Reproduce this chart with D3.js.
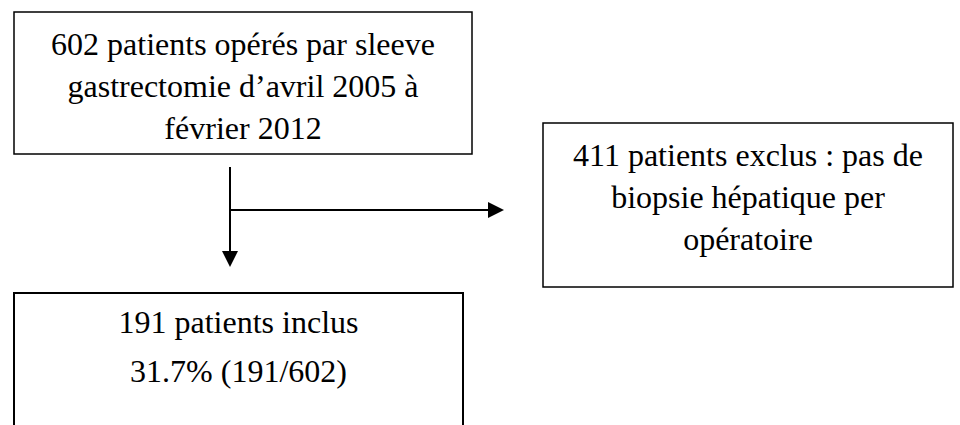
<!doctype html>
<html lang="fr">
    <head>
        <meta charset="utf-8">
        <title>Flowchart sleeve gastrectomie</title>
        <style>
            html, body { margin: 0; padding: 0; background: #fff; }
            svg { display: block; }
            .box { fill: #fff; stroke: #000; }
            .flow { stroke: #000; stroke-width: 2; fill: none; }
            .head { fill: #000; }
            text { font-family: "Liberation Serif", "Times New Roman", serif; font-size: 32px; fill: #000; }
        </style>
    </head>
    <body>
        <article id="chart"></article>

        <script src="https://cdnjs.cloudflare.com/ajax/libs/d3/7.8.5/d3.min.js"></script>
        <script>
            // counts
            var totalPatients = 602;
            var excludedPatients = 411;
            var includedPatients = 191;

            // text of each box, one entry per line
            var operatedLines = [
                totalPatients + " patients opérés par sleeve",
                "gastrectomie d\u2019avril 2005 à",
                "février 2012"
            ];
            var excludedLines = [
                excludedPatients + " patients exclus : pas de",
                "biopsie hépatique per",
                "opératoire"
            ];
            var includedLines = [
                includedPatients + " patients inclus",
                d3.format(".1%")(includedPatients / totalPatients) +
                    " (" + includedPatients + "/" + totalPatients + ")"
            ];

            var width = 960, height = 425;

            var svg = d3.select("#chart").append("svg")
                .attr("width", width)
                .attr("height", height);

            // layout
            var boxes = [
                {x: 14, y: 12, w: 458, h: 142, lines: operatedLines, first: 55, step: 42, sw: 1.5},
                {x: 543, y: 123, w: 410, h: 164, lines: excludedLines, first: 166, step: 42, sw: 1.5},
                {x: 14, y: 293, w: 449, h: 160, lines: includedLines, first: 333, step: 49, sw: 2}
            ];

            var g = svg.selectAll("g.node")
                .data(boxes)
                .enter()
                .append("g")
                .attr("class", "node");

            g.append("rect")
                .attr("class", "box")
                .attr("x", function(d) { return d.x; })
                .attr("y", function(d) { return d.y; })
                .attr("width", function(d) { return d.w; })
                .attr("height", function(d) { return d.h; })
                .style("stroke-width", function(d) { return d.sw; });

            g.each(function(d) {
                d3.select(this).selectAll("text")
                    .data(d.lines)
                    .enter()
                    .append("text")
                    .attr("text-anchor", "middle")
                    .attr("x", d.x + d.w / 2)
                    .attr("y", function(t, i) { return d.first + i * d.step; })
                    .text(function(t) { return t; });
            });

            // connectors
            var stemX = 230, stemTop = 167, branchY = 210;
            var downTip = 267, rightTip = 504, headLen = 16, headHalf = 8;

            svg.append("line")
                .attr("class", "flow")
                .attr("x1", stemX).attr("y1", stemTop)
                .attr("x2", stemX).attr("y2", downTip - headLen);

            svg.append("line")
                .attr("class", "flow")
                .attr("x1", stemX).attr("y1", branchY)
                .attr("x2", rightTip - headLen).attr("y2", branchY);

            svg.append("path")
                .attr("class", "head")
                .attr("d", d3.line()([
                    [stemX - headHalf, downTip - headLen],
                    [stemX + headHalf, downTip - headLen],
                    [stemX, downTip]
                ]) + "Z");

            svg.append("path")
                .attr("class", "head")
                .attr("d", d3.line()([
                    [rightTip - headLen, branchY - headHalf],
                    [rightTip - headLen, branchY + headHalf],
                    [rightTip, branchY]
                ]) + "Z");
        </script>
    </body>
</html>
